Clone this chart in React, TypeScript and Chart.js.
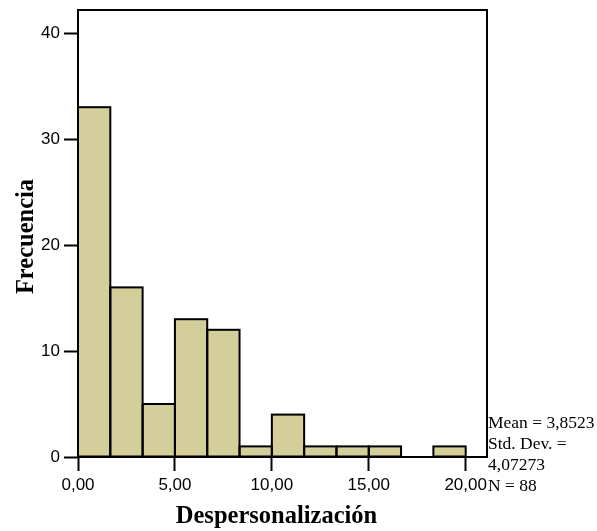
import { useEffect, useRef } from "react";
import { Chart, registerables } from "chart.js";

Chart.register(...registerables);

// Frequency per bin (12 equal bins spanning 0..20)
const binCounts = [33, 16, 5, 13, 12, 1, 4, 1, 1, 1, 0, 1];
const rangeMin = 0;
const rangeMax = 20;
const xTickValues = [0, 5, 10, 15, 20];
const yTickValues = [0, 10, 20, 30, 40];
const xAxisMax = 21.1;
const yAxisMax = 42.17;
const statsLines = ["Mean = 3,8523", "Std. Dev. =", "4,07273", "N = 88"];
const xTitle = "Despersonalización";
const yTitle = "Frecuencia";

const W = 597;
const H = 531;
const barFill = "rgb(211,206,154)";

const binWidth = (rangeMax - rangeMin) / binCounts.length;
const binCenters = binCounts.map((_, i) => rangeMin + binWidth * (i + 0.5));

const formatComma = (v: number) => v.toFixed(2).replace(".", ",");

const histogramDecor = {
  id: "histogramDecor",
  afterDatasetsDraw(chart: any) {
    const ctx = chart.ctx;
    const meta = chart.getDatasetMeta(0);
    ctx.save();
    ctx.strokeStyle = "#000";
    ctx.lineWidth = 2;
    meta.data.forEach((bar: any, i: number) => {
      if (!binCounts[i]) return;
      const { x, y, width, base } = bar.getProps(["x", "y", "width", "base"], true);
      ctx.strokeRect(x - width / 2, y, width, base - y);
    });
    const a = chart.chartArea;
    ctx.strokeRect(a.left, a.top, a.right - a.left, a.bottom - a.top);
    ctx.restore();
  },
  afterDraw(chart: any) {
    const ctx = chart.ctx;
    ctx.save();
    ctx.fillStyle = "#000";
    // axis titles
    ctx.font = "bold 24.5px 'Liberation Serif'";
    ctx.textAlign = "center";
    ctx.textBaseline = "alphabetic";
    ctx.fillText(xTitle, 276.5, 523);
    ctx.save();
    ctx.translate(33, 236.5);
    ctx.rotate(-Math.PI / 2);
    ctx.fillText(yTitle, 0, 0);
    ctx.restore();
    // summary statistics
    ctx.font = "17.5px 'Liberation Serif'";
    ctx.textAlign = "left";
    statsLines.forEach((line, i) => {
      ctx.fillText(line, 488, 427.5 + i * 21);
    });
    ctx.restore();
  },
};

export default function App() {
  const canvasRef = useRef<HTMLCanvasElement | null>(null);

  useEffect(() => {
    const canvas = canvasRef.current;
    if (!canvas) return;
    const tickFont = { family: "'Liberation Sans'", size: 17 };
    const chart = new Chart(canvas, {
      type: "bar",
      data: {
        datasets: [
          {
            data: binCenters.map((c, i) => ({ x: c, y: binCounts[i] })),
            backgroundColor: barFill,
            borderWidth: 0,
            barPercentage: 1,
            categoryPercentage: 1,
          },
        ],
      },
      options: {
        responsive: false,
        animation: false,
        devicePixelRatio: 1,
        layout: { padding: { top: 10, right: W - 487, left: 0, bottom: 0 } },
        plugins: { legend: { display: false }, tooltip: { enabled: false } },
        scales: {
          x: {
            type: "linear",
            min: 0,
            max: xAxisMax,
            offset: false,
            afterFit: (s: any) => {
              s.height = H - 457;
              s.paddingLeft = 0;
              s.paddingRight = 0;
            },
            afterBuildTicks: (s: any) => {
              s.ticks = xTickValues.map((v) => ({ value: v }));
            },
            border: { display: false },
            grid: {
              offset: false,
              drawOnChartArea: false,
              drawTicks: true,
              tickLength: 14,
              tickWidth: 2,
              tickColor: "#000",
            },
            ticks: {
              color: "#000",
              font: tickFont,
              padding: 4,
              maxRotation: 0,
              autoSkip: false,
              callback: (v: any) => formatComma(Number(v)),
            },
          },
          y: {
            type: "linear",
            min: 0,
            max: yAxisMax,
            afterFit: (s: any) => {
              s.width = 78;
              s.paddingTop = 0;
              s.paddingBottom = 0;
            },
            afterBuildTicks: (s: any) => {
              s.ticks = yTickValues.map((v) => ({ value: v }));
            },
            border: { display: false },
            grid: {
              offset: false,
              drawOnChartArea: false,
              drawTicks: true,
              tickLength: 14,
              tickWidth: 2,
              tickColor: "#000",
            },
            ticks: {
              color: "#000",
              font: tickFont,
              padding: 4,
              callback: (v: any) => String(v),
            },
          },
        },
      },
      plugins: [histogramDecor],
    });
    return () => chart.destroy();
  }, []);

  return (
    <div style={{ position: "fixed", left: 0, top: 0, width: W, height: H, background: "#fff" }}>
      <canvas ref={canvasRef} width={W} height={H} style={{ display: "block" }} />
    </div>
  );
}
